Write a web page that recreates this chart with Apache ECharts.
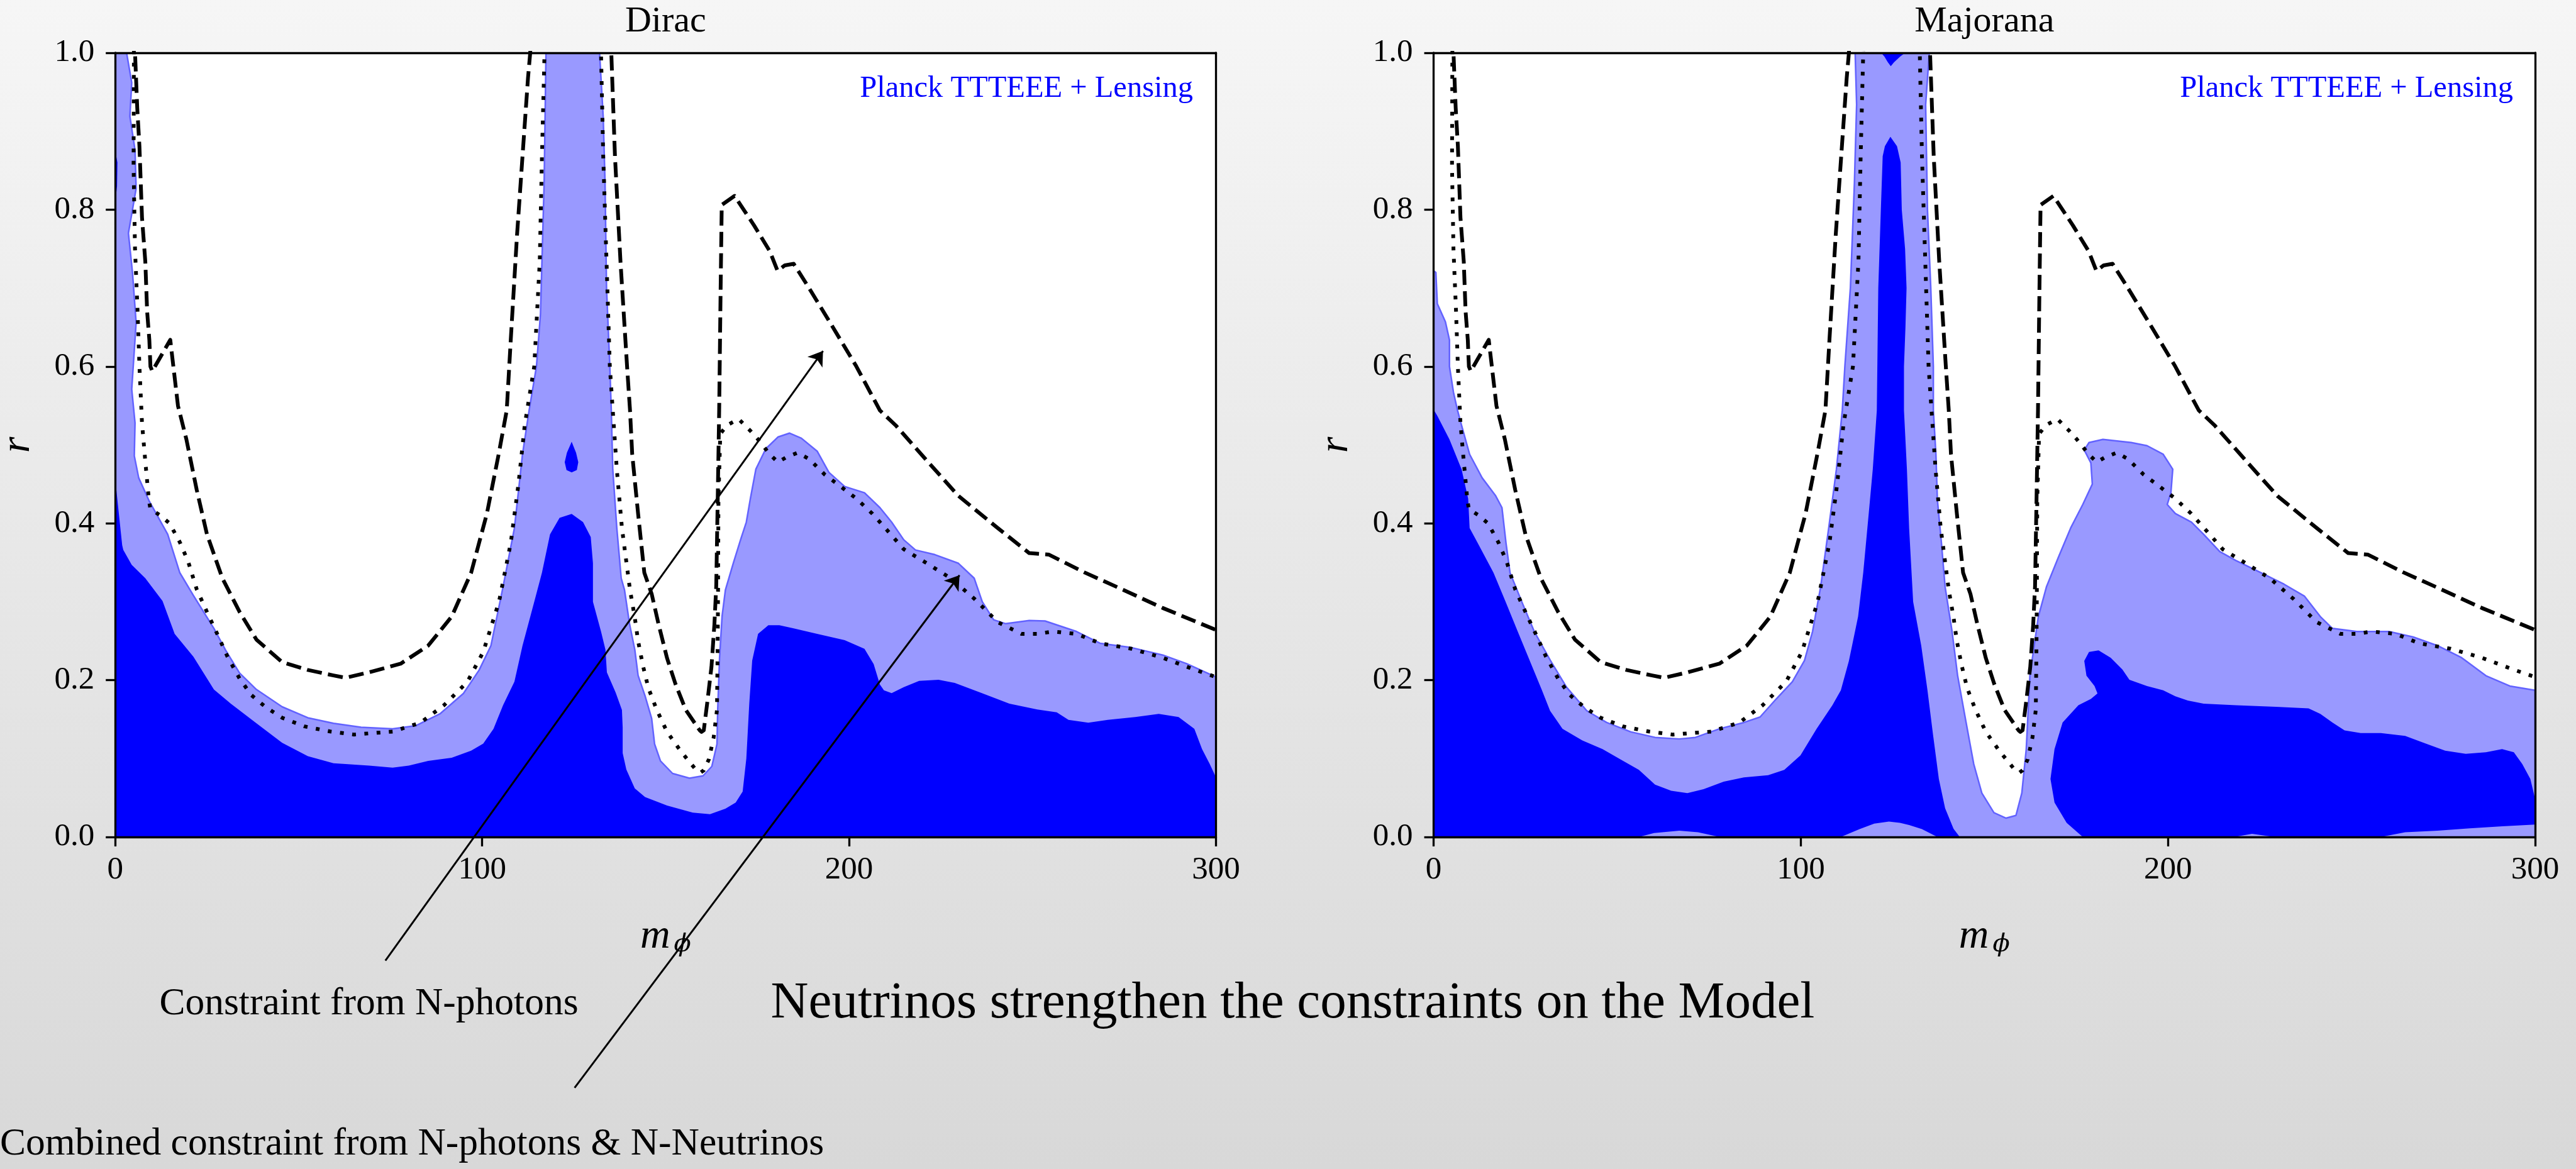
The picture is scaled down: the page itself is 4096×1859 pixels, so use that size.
<!DOCTYPE html>
<html>
<head>
<meta charset="utf-8">
<script src="https://cdn.jsdelivr.net/npm/echarts/dist/echarts.min.js"></script>
<style>
html,body{margin:0;padding:0;width:4096px;height:1859px;overflow:hidden;background:linear-gradient(to bottom,#f6f6f6,#d8d8d8);}
#c{width:4096px;height:1859px;}
</style>
</head>
<body>
<div id="c"></div>
<script>
// ---------------- data ----------------
const xTickValues = [0, 100, 200, 300];
const yTickValues = [0, 0.2, 0.4, 0.6, 0.8, 1.0];
const yTickLabels = ['0.0', '0.2', '0.4', '0.6', '0.8', '1.0'];
const panelTitles = ['Dirac', 'Majorana'];
const datasetLabel = 'Planck TTTEEE + Lensing';

// dashed: constraint from N-photons (same in both panels)
const photonLimit = [
  [5.0,1.05],[5.4,1.0],[6.0,0.93],[6.6,0.881],[7.3,0.79],[8.2,0.734],[8.7,0.67],[9.3,0.634],[9.6,0.60],[10.1,0.594],
  [15.0,0.634],[17.1,0.55],[19.4,0.507],[22.2,0.443],[25.0,0.386],[29.2,0.33],[33.9,0.287],[38.5,0.2516],[45.5,0.223],
  [52.5,0.213],[59.5,0.206],[62.8,0.203],[69.2,0.21],[77.8,0.221],[85.3,0.244],[91.7,0.281],[97,0.337],[101.3,0.4125],
  [104.5,0.488],[106.7,0.544],[107.8,0.634],[109.5,0.767],[111,0.868],[112.5,0.968],[113.1,1.0],[113.6,1.05],
  [134.8,1.05],[135.2,1.0],[136.2,0.868],[137.7,0.734],[139.5,0.6],[140.3,0.544],[140.9,0.488],[142.5,0.4125],[144.2,0.337],
  [146.2,0.31],[148.1,0.271],[150.4,0.228],[152.7,0.195],[155.5,0.162],[159.3,0.136],[159.8,0.134],[160.4,0.136],
  [161.4,0.173],[162.5,0.217],[163.3,0.271],[163.8,0.32],[164.2,0.43],[164.6,0.544],[165.0,0.70],[165.3,0.806],
  [168.8,0.8175],[174.1,0.78],[178.4,0.747],[180.5,0.722],[182.5,0.729],[184.9,0.731],[189.1,0.70],[195.6,0.65],
  [202,0.60],[208.4,0.544],[212.7,0.525],[221.2,0.48],[229.8,0.435],[240.5,0.394],[249.1,0.362],[254.5,0.36],
  [264.1,0.3375],[274.8,0.315],[285.5,0.292],[300,0.264]
];

// dotted: combined constraint from N-photons & N-neutrinos (same in both panels)
const combinedLimit = [
  [5.0,1.05],[5.1,1.0],[5.0,0.855],[5.4,0.749],[6.1,0.67],[6.6,0.6],[7.3,0.528],[8.2,0.479],[9.2,0.429],[9.6,0.418],
  [12,0.411],[14.8,0.40],[17.6,0.376],[19.9,0.351],[22.2,0.316],[25,0.287],[27.8,0.259],[30.6,0.23],[33.9,0.202],
  [37.1,0.181],[40.9,0.166],[45.5,0.152],[51.6,0.141],[58.6,0.1345],[65,0.1306],[75.6,0.1344],[83.2,0.1457],[89.6,0.168],
  [96,0.198],[100.3,0.236],[104.6,0.30],[107.8,0.375],[109.9,0.45],[111.6,0.525],[114.2,0.6],[115.7,0.734],[116.3,0.868],
  [117,1.0],[117.3,1.05],[132.2,1.05],[132.4,1.0],[133,0.868],[133.9,0.734],[134.8,0.6],[135.6,0.544],[136.7,0.469],
  [138.1,0.394],[140.3,0.315],[141.6,0.28],[142.5,0.25],[143.8,0.219],[145.3,0.19],[147.6,0.162],[150.4,0.134],
  [154.2,0.109],[158.4,0.085],[159.5,0.082],[160.4,0.085],[161.8,0.099],[163.1,0.127],[164.0,0.162],[164.2,0.25],
  [164.3,0.319],[164.4,0.43],[164.9,0.514],[166.7,0.525],[169.9,0.533],[173.1,0.518],[175.2,0.507],[178.4,0.488],
  [180.6,0.478],[182.8,0.484],[186,0.49],[189.1,0.482],[193.4,0.462],[197.7,0.447],[202,0.4315],[206.3,0.4125],
  [210.6,0.39],[214.9,0.367],[221.2,0.349],[227.7,0.33],[234.1,0.304],[240.5,0.274],[247,0.259],[251.3,0.259],
  [255.5,0.262],[262,0.259],[268.4,0.247],[277,0.24],[285.5,0.2285],[294.1,0.2135],[300,0.204]
];

// Dirac: 95% (light) region
const diracLight = [
  [0,0],[0,1.0],[3.1,1.0],[4.5,0.962],[4.0,0.919],[5.4,0.876],[5.7,0.827],[3.6,0.77],[4.7,0.72],[5.7,0.656],[4.5,0.571],
  [5.4,0.528],[5.2,0.486],[6.4,0.458],[9.2,0.429],[14.3,0.386],[17.6,0.337],[21.3,0.308],[26.9,0.266],[30.1,0.238],
  [33.9,0.209],[38.5,0.188],[45.5,0.166],[52.5,0.152],[59.5,0.145],[67,0.14],[75.6,0.138],[82,0.142],[88.5,0.157],
  [94.9,0.183],[99.2,0.213],[102.4,0.244],[105.7,0.319],[108.8,0.394],[111,0.488],[112.8,0.544],[114.8,0.6],[115.9,0.667],
  [116.3,0.734],[116.9,0.834],[117.2,0.934],[117.4,1.0],[132.0,1.0],[133,0.918],[133.5,0.834],[133.9,0.70],[134.8,0.60],
  [135.2,0.544],[135.6,0.469],[136.7,0.394],[137.9,0.33],[138.8,0.315],[140.2,0.271],[141.6,0.239],[142.5,0.206],
  [144.4,0.18],[146.2,0.151],[147,0.1185],[148.6,0.097],[151.9,0.081],[156.5,0.075],[160.2,0.078],[162.6,0.09],
  [164,0.1185],[164.2,0.162],[164.7,0.228],[165.4,0.282],[166.3,0.315],[168.5,0.35],[170.5,0.38],[172,0.4015],
  [173.1,0.4315],[174.6,0.469],[177.3,0.495],[180.6,0.51],[183.8,0.515],[187,0.5085],[191.3,0.492],[194.5,0.465],
  [198.8,0.447],[204.2,0.439],[208.4,0.42],[211.6,0.4015],[214.9,0.379],[218.1,0.366],[223.4,0.36],[229.8,0.349],
  [234.1,0.33],[236.3,0.30],[239.4,0.277],[242.7,0.272],[249.1,0.276],[253.4,0.2755],[262,0.262],[268.4,0.247],
  [277,0.2415],[285.5,0.232],[292,0.221],[300,0.204],[300,0]
];
// Dirac: 68% (dark) region
const diracDark = [
  [0,0],[0,0.45],[0.3,0.443],[1.9,0.372],[2.2,0.366],[4.5,0.347],[8.2,0.33],[12.9,0.301],[16.2,0.259],[21.3,0.23],
  [26.9,0.188],[31.5,0.17],[38.5,0.145],[45.5,0.12],[52.5,0.103],[59.5,0.094],[62.8,0.093],[69.2,0.091],[75.6,0.0885],
  [80,0.091],[85.3,0.097],[91.7,0.101],[97,0.11],[100.3,0.119],[103.1,0.138],[105.7,0.168],[108.8,0.198],[111,0.244],
  [114.2,0.30],[116.3,0.337],[118.5,0.386],[121.1,0.407],[124.4,0.412],[127.5,0.4015],[129.6,0.3825],[130.2,0.349],
  [130.2,0.30],[132.4,0.262],[133.6,0.239],[134,0.21],[136.4,0.184],[138.1,0.162],[138.3,0.14],[138.3,0.107],
  [139.3,0.086],[141.6,0.062],[144.4,0.051],[150.4,0.04],[157.4,0.031],[162.1,0.029],[166.3,0.036],[169.1,0.044],
  [171,0.058],[172,0.1],[172.8,0.17],[173.6,0.225],[175.2,0.259],[178,0.27],[181,0.27],[184.9,0.266],[191.3,0.259],
  [198.8,0.251],[204.2,0.24],[206.7,0.2205],[208.4,0.1945],[209.5,0.187],[211.6,0.1834],[214.9,0.191],[219.1,0.199],
  [224.4,0.2004],[228.8,0.1965],[236.2,0.1834],[243.7,0.17],[251.3,0.1626],[256.6,0.159],[259.8,0.1494],[265.2,0.1457],
  [270.5,0.1494],[278,0.153],[284.4,0.157],[289.8,0.153],[294.1,0.138],[296.2,0.112],[298.3,0.093],[300,0.076],[300,0]
];
const diracDarkBlob = [[124.4,0.504],[125.6,0.49],[126.2,0.478],[125.8,0.468],[124.4,0.465],[123,0.468],[122.5,0.478],[123.1,0.49]];
const diracDarkSliver = [[0,0.875],[0.6,0.86],[0.5,0.83],[0,0.81]];

// Majorana: 95% (light) region
const majoranaLight = [
  [0,0],[0,0.722],[0.6,0.72],[1,0.68],[3.2,0.657],[4.3,0.634],[4.3,0.60],[5.4,0.567],[6.5,0.544],[7.6,0.525],[9.8,0.488],
  [13.2,0.458],[16.9,0.435],[18.6,0.42],[19.7,0.375],[20.8,0.337],[24,0.30],[27.4,0.262],[31.8,0.225],[36.2,0.191],
  [41.7,0.161],[47.1,0.146],[53.7,0.134],[60.3,0.127],[66.9,0.125],[71.3,0.127],[77.9,0.138],[84.5,0.146],[88.9,0.153],
  [93.3,0.176],[97.7,0.198],[101,0.225],[103.2,0.262],[105.4,0.319],[107.6,0.394],[109.7,0.469],[111.3,0.544],[112,0.6],
  [113.5,0.7],[114.6,0.834],[115.2,0.934],[114.8,1.0],[135,1.0],[134,0.934],[134.5,0.8],[135.4,0.7],[136.1,0.6],
  [136.1,0.544],[136.8,0.488],[137.2,0.43],[138.3,0.375],[139.3,0.319],[141.2,0.262],[142.7,0.206],[144.9,0.149],
  [147.1,0.093],[149.3,0.056],[152.6,0.031],[155.9,0.024],[158.6,0.0275],[160.2,0.056],[161.4,0.112],[162.4,0.206],
  [164.7,0.281],[166.9,0.319],[170.1,0.356],[173.5,0.394],[176.8,0.424],[179.4,0.45],[179,0.477],[177.2,0.4935],
  [178.5,0.503],[182.3,0.507],[190,0.503],[194.3,0.499],[198.7,0.488],[201.3,0.469],[200.8,0.439],[199.8,0.424],
  [202,0.4125],[206.4,0.4015],[209.7,0.386],[214.1,0.364],[218.5,0.3525],[225.1,0.3375],[231.6,0.3224],[237.2,0.307],
  [241.5,0.281],[244.8,0.266],[251.4,0.262],[260.2,0.262],[266.8,0.255],[273.4,0.244],[280,0.2286],[286.6,0.2056],
  [293.1,0.1925],[300,0.187],[300,0]
];
// Majorana: 68% (dark) regions
const majoranaDarkLeft = [
  [0,0],[0,0.545],[1,0.537],[4.3,0.507],[7.6,0.469],[9.4,0.4315],[9.8,0.394],[12,0.375],[16.3,0.337],[19.6,0.30],
  [22.9,0.262],[26.2,0.2246],[29.5,0.187],[31.7,0.161],[35.1,0.138],[40.5,0.123],[46,0.112],[51.6,0.097],[55.9,0.0857],
  [60.3,0.0668],[64.7,0.059],[69.1,0.056],[73.5,0.061],[79,0.0705],[84.5,0.076],[91.1,0.0788],[95.5,0.0857],[99.9,0.104],
  [104.3,0.138],[108.6,0.168],[110.9,0.187],[113.1,0.2246],[115.6,0.281],[117,0.337],[118.5,0.4125],[119.6,0.469],
  [120.7,0.544],[121.1,0.70],[121.8,0.80],[122.3,0.868],[122.9,0.881],[124.4,0.893],[126.2,0.881],[127.2,0.86],
  [127.5,0.80],[128.4,0.75],[128.8,0.70],[128.5,0.65],[128.1,0.6],[128.1,0.544],[128.9,0.469],[129.5,0.394],[130.6,0.30],
  [132.8,0.244],[134.5,0.187],[136,0.131],[137.6,0.074],[139.3,0.0367],[141.6,0.0105],[143.3,0]
];
const majoranaDarkRight = [
  [176.8,0],[172.4,0.018],[169.1,0.044],[168,0.074],[169.1,0.112],[171.3,0.146],[175.6,0.168],[179,0.176],[180.8,0.183],
  [180,0.1925],[177.8,0.2056],[177.2,0.2246],[178.5,0.236],[181.1,0.238],[184.4,0.2286],[187.6,0.2135],[189.5,0.2004],
  [194.3,0.1925],[198.7,0.187],[202,0.1794],[205.4,0.174],[209.7,0.17],[218.5,0.168],[229.4,0.166],[238.3,0.164],
  [241.5,0.157],[244.8,0.146],[248.1,0.136],[252.5,0.1326],[258,0.1326],[264.6,0.129],[270,0.1194],[275.5,0.11],
  [281.1,0.106],[286.6,0.108],[291,0.112],[294.2,0.108],[296.5,0.093],[298.7,0.074],[300,0.0486],[300,0]
];
const majoranaDarkTop = [[121.9,1.0],[122.8,0.995],[123.7,0.988],[124.5,0.983],[125.4,0.988],[127,0.995],[128.4,1.0]];
const majoranaLightPatches = [
  [[55.9,0],[60,0.005],[66.9,0.008],[72,0.006],[77.9,0]],
  [[110.9,0],[116,0.01],[120,0.017],[124,0.0197],[127,0.018],[129.5,0.0153],[133,0.01],[137.2,0]],
  [[218,0],[222.9,0.004],[229,0]],
  [[258,0],[264.6,0.006],[273.4,0.008],[282.2,0.011],[291.1,0.0137],[300,0.0158],[300,0]]
];

// annotation arrows (data coords of the left panel; tails lie below the axes)
const annotationArrows = [
  [[73.63,-0.1577],[192.9,0.6198]],
  [[125.2,-0.3199],[230.1,0.3338]]
];
const annotationTexts = ['Constraint from N-photons', 'Combined constraint from N-photons & N-Neutrinos'];
const headline = 'Neutrinos strengthen the constraints on the Model';

// ---------------- chart ----------------
const FONT = "'Liberation Serif','DejaVu Serif',serif";
const LIGHT = '#9999ff', DARK = '#0000ff', EDGE = '#6262ff';
const GRID = [
  {left: 183.2, top: 84, width: 1750.3, height: 1247},
  {left: 2279.6, top: 84, width: 1751.4, height: 1247}
];

function polySeries(poly, gi, fill, stroke, lw, z) {
  return {
    type: 'custom', coordinateSystem: 'cartesian2d', xAxisIndex: gi * 2, yAxisIndex: gi * 2,
    z: z, silent: true, clip: true, data: [[0, 0]],
    renderItem: function (params, api) {
      return {
        type: 'polygon',
        shape: {points: poly.map(function (p) { return api.coord(p); })},
        style: {fill: fill, stroke: stroke || null, lineWidth: lw || 0, lineJoin: 'round'}
      };
    }
  };
}
function lineSeries(data, gi, type) {
  return {
    type: 'line', xAxisIndex: gi * 2, yAxisIndex: gi * 2, data: data, z: 5, silent: true, clip: true,
    symbol: 'none', showSymbol: false, smooth: false, animation: false,
    lineStyle: {color: '#000', width: 6, type: type, cap: 'butt', join: 'round'}
  };
}
const axisLine = {show: true, onZero: false, lineStyle: {color: '#000', width: 3.3}};
const xAxes = [], yAxes = [];
[0, 1].forEach(function (gi) {
  xAxes.push({
    gridIndex: gi, type: 'value', min: xTickValues[0], max: xTickValues[xTickValues.length - 1],
    interval: xTickValues[1] - xTickValues[0], position: 'bottom', z: 10,
    axisLine: axisLine, axisTick: {show: true, inside: false, length: 15, lineStyle: {color: '#000', width: 3.3}},
    axisLabel: {show: true, margin: 27, color: '#000', fontFamily: FONT, fontSize: 51, lineHeight: 51},
    splitLine: {show: false},
    name: '{m|m}{p|ϕ}', nameLocation: 'middle', nameGap: 126, nameMoveOverlap: false,
    nameTextStyle: {
      color: '#000', fontFamily: FONT, fontSize: 66, lineHeight: 66,
      rich: {
        m: {fontFamily: FONT, fontStyle: 'italic', fontSize: 66, lineHeight: 66, color: '#000'},
        p: {fontFamily: "'DejaVu Serif',serif", fontStyle: 'italic', fontSize: 40, lineHeight: 30, verticalAlign: 'bottom', color: '#000', padding: [0, 0, 0, 6]}
      }
    }
  });
  xAxes.push({
    gridIndex: gi, type: 'value', min: 0, max: 300, position: 'top', z: 10,
    axisLine: axisLine, axisTick: {show: false}, axisLabel: {show: false}, splitLine: {show: false}
  });
  yAxes.push({
    gridIndex: gi, type: 'value', min: yTickValues[0], max: yTickValues[yTickValues.length - 1],
    interval: 0.2, position: 'left', z: 10,
    axisLine: axisLine, axisTick: {show: true, inside: false, length: 15, lineStyle: {color: '#000', width: 3.3}},
    axisLabel: {
      show: true, margin: 33, color: '#000', fontFamily: FONT, fontSize: 51, lineHeight: 51,
      formatter: function (v) { const i = Math.round(v / 0.2); return yTickLabels[i] !== undefined ? yTickLabels[i] : v.toFixed(1); }
    },
    splitLine: {show: false},
    name: 'r', nameLocation: 'middle', nameGap: 122, nameRotate: 90, nameMoveOverlap: false,
    nameTextStyle: {color: '#000', fontFamily: FONT, fontStyle: 'italic', fontSize: 66, lineHeight: 66}
  });
  yAxes.push({
    gridIndex: gi, type: 'value', min: 0, max: 1, position: 'right', z: 10,
    axisLine: axisLine, axisTick: {show: false}, axisLabel: {show: false}, splitLine: {show: false}
  });
});

const series = [];
// Dirac
series.push(polySeries(diracLight, 0, LIGHT, EDGE, 2.5, 1));
series.push(polySeries(diracDark, 0, DARK, null, 0, 2));
series.push(polySeries(diracDarkBlob, 0, DARK, null, 0, 2));
series.push(polySeries(diracDarkSliver, 0, DARK, null, 0, 2));
series.push(lineSeries(photonLimit, 0, [24, 10]));
series.push(lineSeries(combinedLimit, 0, [6, 13.5]));
// Majorana
series.push(polySeries(majoranaLight, 1, LIGHT, EDGE, 2.5, 1));
series.push(polySeries(majoranaDarkLeft, 1, DARK, null, 0, 2));
series.push(polySeries(majoranaDarkRight, 1, DARK, null, 0, 2));
series.push(polySeries(majoranaDarkTop, 1, DARK, null, 0, 2));
majoranaLightPatches.forEach(function (p) { series.push(polySeries(p, 1, LIGHT, null, 0, 3)); });
series.push(lineSeries(photonLimit, 1, [24, 10]));
series.push(lineSeries(combinedLimit, 1, [6, 13.5]));
// annotation arrows
series.push({
  type: 'lines', coordinateSystem: 'cartesian2d', xAxisIndex: 0, yAxisIndex: 0, z: 12, silent: true, clip: false,
  symbol: ['none', 'arrow'], symbolSize: 22, animation: false,
  lineStyle: {color: '#000', width: 3, opacity: 1, curveness: 0},
  data: annotationArrows.map(function (a) { return {coords: a}; })
});

function txt(text, left, top, size, align, color) {
  return {text: text, left: left, top: top, textAlign: align, padding: 0,
    textStyle: {fontFamily: FONT, fontSize: size, lineHeight: size, fontWeight: 'normal', color: color || '#000'}};
}
const titles = [
  txt(panelTitles[0], GRID[0].left + GRID[0].width / 2, 6, 58, 'center'),
  txt(panelTitles[1], GRID[1].left + GRID[1].width / 2, 6, 58, 'center'),
  txt(datasetLabel, 1897, 117, 48.5, 'right', '#0000ff'),
  txt(datasetLabel, 3996, 117, 48.5, 'right', '#0000ff'),
  txt(annotationTexts[0], 253.4, 1565.8, 61.5, 'left'),
  txt(headline, 1225.6, 1554.3, 83, 'left'),
  txt(annotationTexts[1], 0, 1789.4, 61.5, 'left')
];

const chart = echarts.init(document.getElementById('c'), null, {renderer: 'canvas', width: 4096, height: 1859});
chart.setOption({
  backgroundColor: 'transparent',
  animation: false,
  title: titles,
  grid: GRID.map(function (g) {
    return Object.assign({show: true, backgroundColor: '#ffffff', borderWidth: 0, containLabel: false, outerBoundsMode: 'none'}, g);
  }),
  xAxis: xAxes,
  yAxis: yAxes,
  series: series
});
</script>
</body>
</html>
